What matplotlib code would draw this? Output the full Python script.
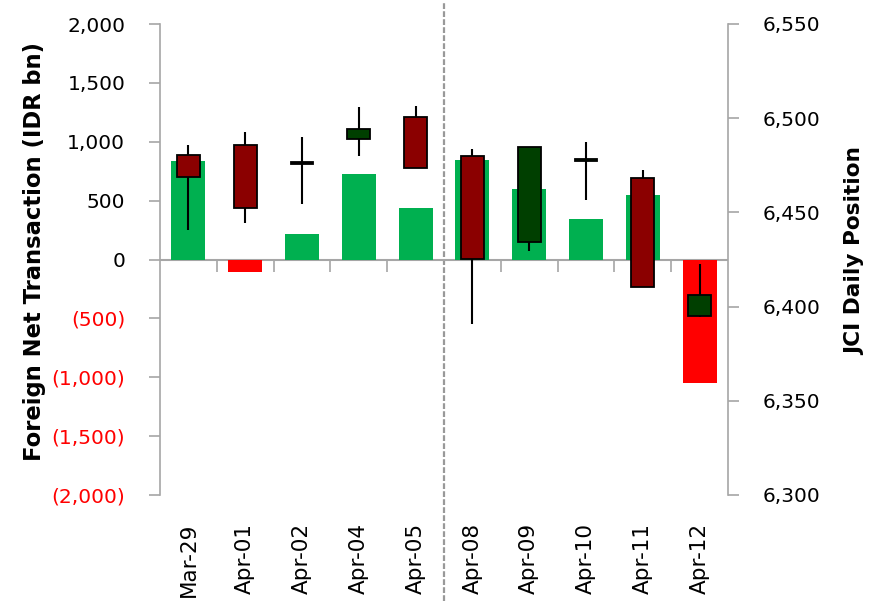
import matplotlib
matplotlib.use("Agg")
import matplotlib.pyplot as plt
import numpy as np
from matplotlib.ticker import FuncFormatter

# ---- data ----
dates = ["Mar-29", "Apr-01", "Apr-02", "Apr-04", "Apr-05",
         "Apr-08", "Apr-09", "Apr-10", "Apr-11", "Apr-12"]
foreign_net = [840, -110, 220, 725, 435, 848, 596, 343, 545, -1050]
jci_open = [6480.6, 6485.7, 6476.5, 6489.2, 6500.7, 6480.0, 6434.5, 6477.2, 6468.0, 6395.0]
jci_close = [6468.6, 6452.4, 6475.5, 6494.5, 6473.5, 6425.2, 6484.5, 6478.2, 6410.2, 6406.0]
jci_high = [6485.7, 6492.6, 6489.9, 6505.8, 6506.5, 6483.8, 6484.5, 6487.6, 6472.6, 6422.4]
jci_low = [6440.9, 6444.4, 6454.7, 6479.7, 6473.5, 6390.6, 6429.4, 6456.8, 6410.2, 6394.7]
left_ticks = [-2000, -1500, -1000, -500, 0, 500, 1000, 1500, 2000]
right_ticks = [6300, 6350, 6400, 6450, 6500, 6550]

GREEN_BAR = "#00B050"
RED_BAR = "#FF0000"
UP = "#003F00"
DOWN = "#8B0000"
GRAY = "#A6A6A6"

fig = plt.figure(figsize=(8.83, 6.04), dpi=100)
ax = fig.add_axes([160/883, 109/604, 568/883, 471/604])
x = np.arange(len(dates))

bar_colors = [GREEN_BAR if v >= 0 else RED_BAR for v in foreign_net]
ax.bar(x, foreign_net, width=0.6, color=bar_colors, zorder=3)
ax.axhline(0, color=GRAY, lw=1.5, zorder=2)
ax.set_xlim(-0.5, len(dates) - 0.5)
ax.set_ylim(-2000, 2000)
ax.set_yticks(left_ticks)

def fmt_left(v, pos):
    if v < 0:
        return "({:,.0f})".format(-v)
    return "{:,.0f}".format(v)
ax.yaxis.set_major_formatter(FuncFormatter(fmt_left))
ax.tick_params(axis="y", direction="out", length=8, width=1.2, color=GRAY,
               pad=17, labelsize=14.5)
for lab, v in zip(ax.get_yticklabels(), left_ticks):
    lab.set_color("red" if v < 0 else "black")

ax.set_xticks(x)
ax.set_xticklabels(dates, rotation=90, fontsize=15.5)
ax.tick_params(axis="x", length=0, pad=20)

for s in ["top", "right", "bottom"]:
    ax.spines[s].set_visible(False)
ax.spines["left"].set_color(GRAY)
ax.spines["left"].set_linewidth(1.2)

# boundary ticks on the zero line
sec = ax.secondary_xaxis(0.5)
sec.set_xticks([i + 0.5 for i in range(len(dates) - 1) if i != 4])
sec.tick_params(axis="x", direction="in", length=9, width=1.2, color=GRAY,
                labelbottom=False, labeltop=False)
sec.spines["bottom"].set_visible(False)
sec.spines["top"].set_visible(False)
sec.set_xticklabels([])

ax.set_ylabel("Foreign Net Transaction (IDR bn)", fontsize=16.3,
              fontweight="bold")
ax.yaxis.set_label_coords(-0.200, 0.516)

# dashed separator
ax.plot([4.5, 4.5], [-0.225, 1.045], transform=ax.get_xaxis_transform(),
        color="#999999", lw=1.6, linestyle=(0, (2.6, 1.0)), clip_on=False,
        zorder=1)

# candlesticks on right axis
ax2 = ax.twinx()
ax2.set_ylim(6300, 6550)
ax2.set_yticks(right_ticks)
ax2.yaxis.set_major_formatter(FuncFormatter(lambda v, p: "{:,.0f}".format(v)))
ax2.tick_params(axis="y", direction="out", length=8, width=1.2, color=GRAY,
                pad=17, labelsize=14.5)
for s in ["top", "left", "bottom"]:
    ax2.spines[s].set_visible(False)
ax2.spines["right"].set_color(GRAY)
ax2.spines["right"].set_linewidth(1.2)
ax2.set_ylabel("JCI Daily Position", fontsize=15.6, fontweight="bold")
ax2.yaxis.set_label_coords(1.206, 0.518)

ax2.vlines(x, jci_low, jci_high, color="black", lw=1.5, zorder=3)
for i in range(len(dates)):
    o, c = jci_open[i], jci_close[i]
    bottom = min(o, c)
    h = abs(c - o)
    col = UP if c > o else DOWN
    if i == 2:
        col = "black"
    ax2.bar(x[i], h, bottom=bottom, width=0.4, color=col,
            edgecolor="black", linewidth=1.3, zorder=4)

fig.savefig("out.png", dpi=100)
